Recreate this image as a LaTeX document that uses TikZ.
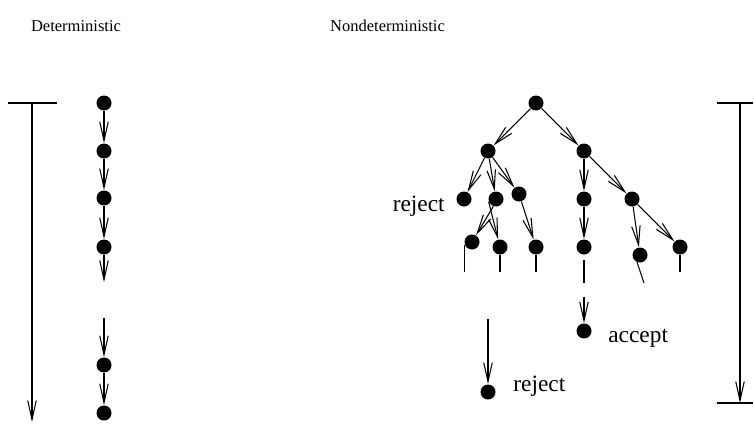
\documentclass[tikz,border=0pt]{standalone}
\usepackage{fontspec}
\setmainfont{Liberation Serif}
\usetikzlibrary{arrows.meta,positioning}

\begin{document}
\begin{tikzpicture}[
  dot/.style={circle, fill=black, inner sep=0pt, minimum size=0.3cm},
  arr/.style={-{Straight Barb[length=0.38cm, width=0.17cm]}, line width=0.6pt},
  ln/.style={line width=0.6pt},
  title/.style={font=\fontsize{9.4}{11}\selectfont, anchor=base},
  lbl/.style={font=\fontsize{13.3}{16}\selectfont, inner sep=0pt}
]
\useasboundingbox (0,0) rectangle (15.08,-8.46);

% Titles
\node[title] (dettitle) at (1.52,-0.64) {Deterministic};
\node[title] (ndtitle) at (7.75,-0.64) {Nondeterministic};

% Left time bar
\coordinate (lbarl) at (0.16,-2.06);
\coordinate (lbarr) at (1.14,-2.06);
\coordinate (ltop) at (0.64,-2.06);
\coordinate (lbot) at (0.64,-8.44);
\draw[ln] (lbarl) -- (lbarr);
\draw[arr] (ltop) -- (lbot);

% Deterministic computation
\node[dot] (d1) at (2.08,-2.06) {};
\node[dot] (d2) at (2.08,-3.02) {};
\node[dot] (d3) at (2.08,-3.96) {};
\node[dot] (d4) at (2.08,-4.94) {};
\node[dot] (d5) at (2.08,-7.30) {};
\node[dot] (d6) at (2.08,-8.26) {};
\coordinate (gapa) at (2.08,-5.64);
\coordinate (gapb) at (2.08,-6.36);
\draw[arr] (d1) -- (d2);
\draw[arr] (d2) -- (d3);
\draw[arr] (d3) -- (d4);
\draw[arr] (d4) -- (gapa);
\draw[arr] (gapb) -- (d5);
\draw[arr] (d5) -- (d6);

% Nondeterministic computation: top levels
\node[dot] (root) at (10.72,-2.06) {};
\node[dot] (lft) at (9.76,-3.02) {};
\node[dot] (rgt) at (11.68,-3.02) {};
\draw[arr] (root) -- (lft);
\draw[arr] (root) -- (rgt);

% Left branch
\node[dot] (na) at (9.28,-3.98) {};
\node[dot] (nb) at (9.92,-3.98) {};
\node[dot] (nc) at (10.38,-3.88) {};
\node[lbl, anchor=base east] (rej1) at (8.90,-4.22) {reject};
\draw[arr] (lft) -- (na);
\draw[arr] (lft) -- (nb);
\draw[arr] (lft) -- (nc);

\node[dot] (nd) at (9.44,-4.84) {};
\node[dot] (ne) at (10.00,-4.94) {};
\node[dot] (nf) at (10.72,-4.94) {};
\draw[arr] (nb.250) -- (nd);
\draw[arr] (nb.200) -- (ne);
\draw[arr] (nc) -- (nf);

% Right branch
\node[dot] (ng) at (11.68,-3.98) {};
\node[dot] (nh) at (12.64,-3.98) {};
\node[dot] (ni) at (11.68,-4.94) {};
\node[dot] (nj) at (12.80,-5.10) {};
\node[dot] (nk) at (13.60,-4.94) {};
\draw[arr] (rgt) -- (ng);
\draw[arr] (rgt) -- (nh);
\draw[arr] (ng) -- (ni);
\draw[arr] (nh) -- (nj);
\draw[arr] (nh) -- (nk);

% Loose ends
\coordinate (stubs) at (0,-5.44);
\draw[ln] (nd.205) -- (nd.205 |- stubs);
\draw[ln] (ne) -- (ne |- stubs);
\draw[ln] (nf) -- (nf |- stubs);
\draw[ln] (nk) -- (nk |- stubs);
\coordinate (ja) at (12.74,-5.24);
\coordinate (jb) at (12.88,-5.66);
\draw[ln] (ja) -- (jb);
\coordinate (ia) at (11.68,-5.20);
\coordinate (ib) at (11.68,-5.66);
\draw[ln] (ia) -- (ib);

% Accepting path
\node[dot] (acc) at (11.68,-6.62) {};
\coordinate (ic) at (11.68,-5.94);
\draw[arr] (ic) -- (acc);
\node[lbl, anchor=base west] (acclbl) at (12.16,-6.85) {accept};

% Rejecting path
\node[dot] (rej) at (9.76,-7.84) {};
\coordinate (rtop) at (9.76,-6.38);
\draw[arr] (rtop) -- (rej);
\node[lbl, anchor=base west] (rej2) at (10.26,-7.82) {reject};

% Right time bar
\coordinate (rbarl) at (14.34,-2.06);
\coordinate (rbarr) at (15.06,-2.06);
\coordinate (rbtop) at (14.80,-2.06);
\coordinate (rbbot) at (14.80,-8.06);
\coordinate (rbotl) at (14.34,-8.06);
\coordinate (rbotr) at (15.06,-8.06);
\draw[ln] (rbarl) -- (rbarr);
\draw[arr] (rbtop) -- (rbbot);
\draw[ln] (rbotl) -- (rbotr);

\end{tikzpicture}
\end{document}
